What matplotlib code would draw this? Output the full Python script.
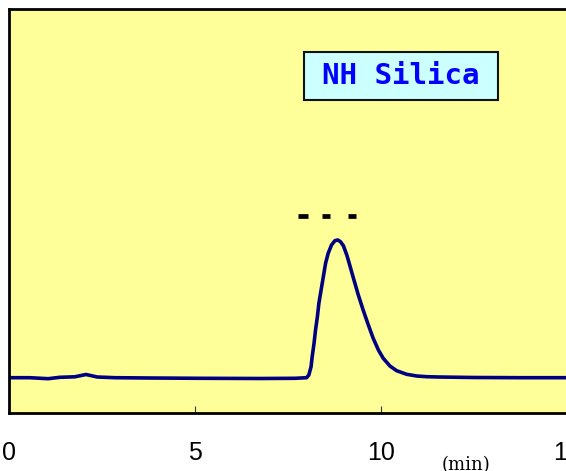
import matplotlib
matplotlib.use("Agg")
from matplotlib import pyplot
from matplotlib.patches import Rectangle

# chromatogram trace (time in min, detector signal in arbitrary units)
time_min = [0.0, 0.56, 1.05, 1.37, 1.77, 2.07, 2.37, 2.85, 3.79, 5.13, 6.75, 7.69, 8.00,
            8.06, 8.12, 8.15, 8.20, 8.24, 8.29, 8.33, 8.39, 8.45, 8.51, 8.58, 8.67,
            8.76, 8.84, 8.91, 8.99, 9.08, 9.12, 9.26, 9.39, 9.52, 9.66, 9.79, 9.93,
            10.06, 10.24, 10.42, 10.69, 10.96, 11.23, 11.54, 12.5, 13.8, 15.0]
signal = [35.3, 35.3, 34.3, 35.7, 36.2, 38.5, 36.0, 35.3, 35.0, 34.7, 34.5, 34.7, 35.3,
          38.0, 46.3, 56.3, 69.7, 83.0, 96.3, 109.7, 123.0, 136.3, 149.7, 159.7, 168.0,
          172.3, 173.0, 171.3, 167.2, 158.0, 153.0, 134.7, 118.0, 103.0, 88.0, 74.7, 63.0,
          54.7, 47.0, 42.3, 38.7, 37.0, 36.3, 36.0, 35.5, 35.3, 35.3]

# fraction-collection marks above the peak
frac_start = [7.77, 8.41, 9.11]
frac_end = [8.04, 8.64, 9.33]
frac_level = 197.5

xticks = [0, 5, 10, 15]
xtick_labels = ["0", "5", "10", "15"]
label = "NH Silica"

fig = pyplot.figure(figsize=(5.66, 4.71), dpi=100)
ax = fig.add_axes([9 / 566, 58 / 471, 558 / 566, 404 / 471])
ax.set_facecolor("#FFFF99")

ax.plot(time_min, signal, "-", color="#000080", lw=2.6,
        solid_joinstyle="round", solid_capstyle="round")
ax.hlines([frac_level] * len(frac_start), frac_start, frac_end,
          colors="black", lw=3.4, capstyle="butt")

ax.set_xlim(0, 15)
ax.set_ylim(0, 404)
ax.set_yticks([])
ax.set_xticks(xticks)
ax.set_xticklabels(xtick_labels, fontsize=18, family="Liberation Sans")
ax.tick_params(axis="x", direction="in", length=5, width=0.8, pad=20,
               color="#333333")
for sp in ax.spines.values():
    sp.set_linewidth(2.0)
    sp.set_color("black")

ax.add_patch(Rectangle((0.5287, 0.7748), 0.3477, 0.1188, transform=ax.transAxes,
                       facecolor="#CCFFFF", edgecolor="#111111", lw=1.5, zorder=3))
ax.text(0.7016, 0.834, label, transform=ax.transAxes, ha="center", va="center",
        fontsize=21, family="DejaVu Sans Mono", fontweight="bold", color="#0000FF",
        zorder=4)

fig.text(466 / 566, 0.002, "(min)", ha="center", va="baseline",
         fontsize=13, family="DejaVu Serif", color="black")

pyplot.savefig("out.png", dpi=100)
pyplot.close()
